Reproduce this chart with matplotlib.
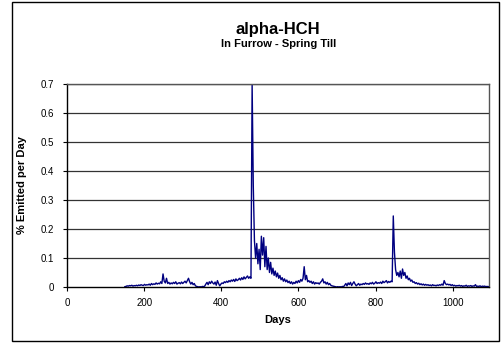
import numpy as np
import matplotlib
matplotlib.use("Agg")
import matplotlib.pyplot as plt
from matplotlib.patches import Rectangle
from matplotlib.ticker import FuncFormatter

plt.rcParams['font.family'] = ['Liberation Sans', 'DejaVu Sans']

# % emitted per day, one reading every 3 days starting at day 150
FIRST_DAY = 150
STEP = 3
emitted = [
    0.001, 0.002, 0.004, 0.003, 0.005, 0.004, 0.006, 0.003, 0.005, 0.004,
    0.006, 0.004, 0.007, 0.005, 0.008, 0.006, 0.005, 0.009, 0.006, 0.008,
    0.007, 0.010, 0.006, 0.012, 0.008, 0.011, 0.009, 0.014, 0.010, 0.013,
    0.011, 0.018, 0.012, 0.045, 0.020, 0.014, 0.030, 0.012, 0.016, 0.010,
    0.014, 0.011, 0.016, 0.012, 0.018, 0.010, 0.013, 0.015, 0.011, 0.017,
    0.012, 0.016, 0.020, 0.014, 0.022, 0.030, 0.018, 0.010, 0.016, 0.008,
    0.012, 0.004, 0.002, 0.001, 0.000, 0.001, 0.000, 0.002, 0.001, 0.003,
    0.010, 0.016, 0.008, 0.018, 0.012, 0.020, 0.014, 0.010, 0.017, 0.006,
    0.022, 0.012, 0.004, 0.010, 0.014, 0.012, 0.018, 0.015, 0.020, 0.016,
    0.022, 0.018, 0.024, 0.020, 0.026, 0.019, 0.028, 0.022, 0.025, 0.030,
    0.024, 0.032, 0.026, 0.035, 0.028, 0.033, 0.038, 0.030, 0.035, 0.030,
    0.700, 0.350, 0.160, 0.100, 0.150, 0.080, 0.130, 0.060, 0.175, 0.110,
    0.170, 0.070, 0.140, 0.060, 0.100, 0.050, 0.085, 0.045, 0.065, 0.040,
    0.055, 0.035, 0.048, 0.030, 0.040, 0.025, 0.032, 0.020, 0.028, 0.018,
    0.024, 0.015, 0.020, 0.012, 0.018, 0.010, 0.016, 0.012, 0.020, 0.014,
    0.022, 0.016, 0.026, 0.020, 0.030, 0.070, 0.025, 0.040, 0.018, 0.022,
    0.016, 0.020, 0.012, 0.018, 0.010, 0.015, 0.012, 0.014, 0.010, 0.016,
    0.020, 0.028, 0.014, 0.018, 0.010, 0.016, 0.008, 0.012, 0.006, 0.004,
    0.003, 0.002, 0.001, 0.000, 0.001, 0.000, 0.001, 0.000, 0.002, 0.001,
    0.006, 0.012, 0.004, 0.014, 0.008, 0.016, 0.005, 0.012, 0.018, 0.010,
    0.004, 0.008, 0.012, 0.006, 0.010, 0.008, 0.012, 0.009, 0.014, 0.010,
    0.012, 0.009, 0.014, 0.011, 0.016, 0.010, 0.013, 0.018, 0.012, 0.015,
    0.013, 0.017, 0.012, 0.020, 0.015, 0.018, 0.022, 0.014, 0.019, 0.016,
    0.020, 0.018, 0.245, 0.120, 0.060, 0.040, 0.050, 0.035, 0.055, 0.030,
    0.062, 0.040, 0.050, 0.030, 0.038, 0.025, 0.030, 0.020, 0.024, 0.016,
    0.018, 0.012, 0.015, 0.010, 0.013, 0.008, 0.011, 0.007, 0.010, 0.006,
    0.009, 0.006, 0.008, 0.005, 0.007, 0.004, 0.008, 0.005, 0.006, 0.004,
    0.007, 0.005, 0.008, 0.006, 0.010, 0.006, 0.022, 0.012, 0.008, 0.010,
    0.007, 0.009, 0.005, 0.008, 0.004, 0.006, 0.003, 0.005, 0.004, 0.006,
    0.003, 0.005, 0.002, 0.004, 0.003, 0.006, 0.002, 0.004, 0.003, 0.005,
    0.002, 0.004, 0.003, 0.008, 0.002, 0.003, 0.002, 0.004, 0.001, 0.003,
    0.002, 0.003, 0.001, 0.002, 0.001, 0.002,
]
days = FIRST_DAY + STEP * np.arange(len(emitted))

x_ticks = [0, 200, 400, 600, 800, 1000]
y_ticks = [0, 0.1, 0.2, 0.3, 0.4, 0.5, 0.6, 0.7]

fig = plt.figure(figsize=(5.03, 3.43), dpi=100)
ax = fig.add_axes([0.1332, 0.1633, 0.8396, 0.5918])

ax.plot(days, emitted, color='#000080', linewidth=1.0)

ax.set_xlim(0, 1095)
ax.set_ylim(0, 0.7)
ax.set_xticks(x_ticks)
ax.set_yticks(y_ticks)
ax.yaxis.set_major_formatter(FuncFormatter(lambda v, p: f'{v:g}'))
ax.tick_params(axis='both', labelsize=7, direction='out', length=3, width=0.8,
               color='black', pad=6)
ax.tick_params(axis='x', pad=5)

for y in y_ticks[1:]:
    ax.axhline(y, color='#333333', linewidth=0.9, zorder=0)

for side in ['left', 'bottom']:
    ax.spines[side].set_color('black')
    ax.spines[side].set_linewidth(1.0)
for side in ['top', 'right']:
    ax.spines[side].set_color('#555555')
    ax.spines[side].set_linewidth(1.0)

ax.set_xlabel('Days', fontsize=8, fontweight='bold', labelpad=5)
ax.set_ylabel('% Emitted per Day', fontsize=8, fontweight='bold', labelpad=10)

fig.text(0.553, 0.915, 'alpha-HCH', ha='center', va='center',
         fontsize=12, fontweight='bold')
fig.text(0.553, 0.872, 'In Furrow - Spring Till', ha='center', va='center',
         fontsize=8, fontweight='bold')

# chart frame
fig.patches.append(Rectangle((12 / 503, 2 / 343), 487 / 503, 339 / 343,
                             transform=fig.transFigure, fill=False,
                             edgecolor='black', linewidth=1.0))

fig.savefig('out.png', dpi=100)
